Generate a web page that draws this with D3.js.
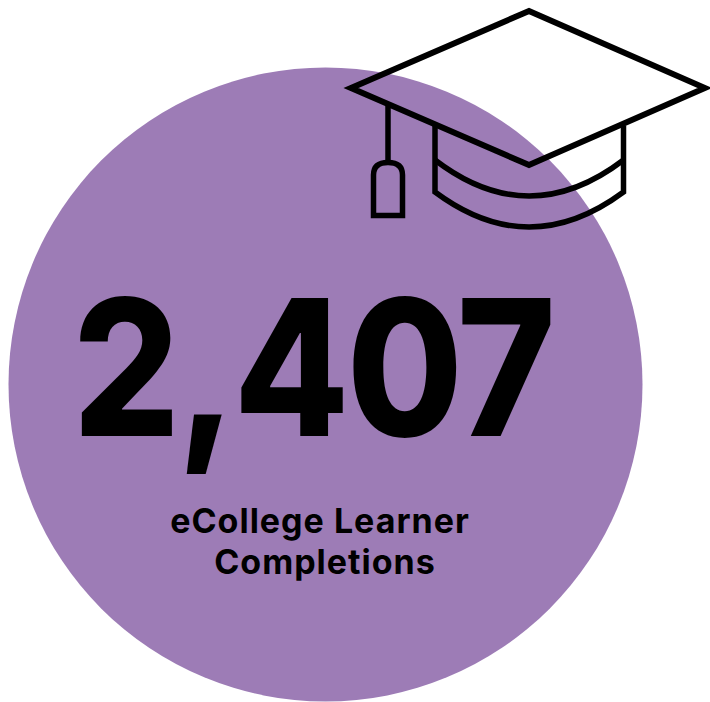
<!DOCTYPE html>
<html>
<head>
<meta charset="utf-8">
<script src="https://cdn.jsdelivr.net/npm/d3@7"></script>
<style>
html, body { margin: 0; padding: 0; background: #fff; }
svg { display: block; }
text { font-family: Inter, Lato, sans-serif; fill: #000; text-anchor: middle; }
</style>
</head>
<body>
<svg id="svg" width="710" height="702"></svg>
<script>
const total = [2407];
const labelLines = ['eCollege Learner', 'Completions'];
const labelX = [320, 325];
const circleColour = ['#9d7cb6'];

const svg = d3.select('#svg');

// one value, the circle is only a backdrop for it
const r = d3.scaleSqrt().domain([0, total[0]]).range([0, 317]);

svg.selectAll('circle')
    .data(total)
    .enter()
    .append('circle')
    .attr('cx', 325.5)
    .attr('cy', 384.5)
    .attr('r', d => r(d))
    .attr('fill', circleColour[0]);

// Inter is wider than the original font, squeeze it sideways
svg.selectAll('text.big')
    .data(total)
    .enter()
    .append('text')
    .attr('class', 'big')
    .text(d => d3.format(',')(d))
    .attr('transform', 'translate(313,436) scale(0.884,1)')
    .attr('font-size', 190)
    .attr('font-weight', 800)
    .attr('letter-spacing', -3);

svg.selectAll('text.label')
    .data(labelLines)
    .enter()
    .append('text')
    .attr('class', 'label')
    .text(d => d)
    .attr('x', (d, i) => labelX[i])
    .attr('y', (d, i) => 533 + i * 41)
    .attr('font-size', 34)
    .attr('font-weight', 700)
    .attr('letter-spacing', 1);

// mortarboard icon, outline only so the circle shows through
const cap = svg.append('g')
    .attr('fill', 'none')
    .attr('stroke', '#000')
    .attr('stroke-width', 5.5)
    .attr('stroke-linejoin', 'miter');

cap.append('path').attr('d', 'M351 88 L529 11 L705 88 L529 165 Z').attr('stroke-width', 6);
cap.append('path').attr('d', 'M435 126 L435 192 Q529 262 623.5 192 L623.5 126');
cap.append('path').attr('d', 'M435 160 Q529 232 623.5 160');
cap.append('path').attr('d', 'M388 105 L388 162');
cap.append('path').attr('d', 'M373.5 215.5 L373.5 175 Q373.5 162.5 388 162.5 Q402.5 162.5 402.5 175 L402.5 215.5 Z');
</script>
</body>
</html>
